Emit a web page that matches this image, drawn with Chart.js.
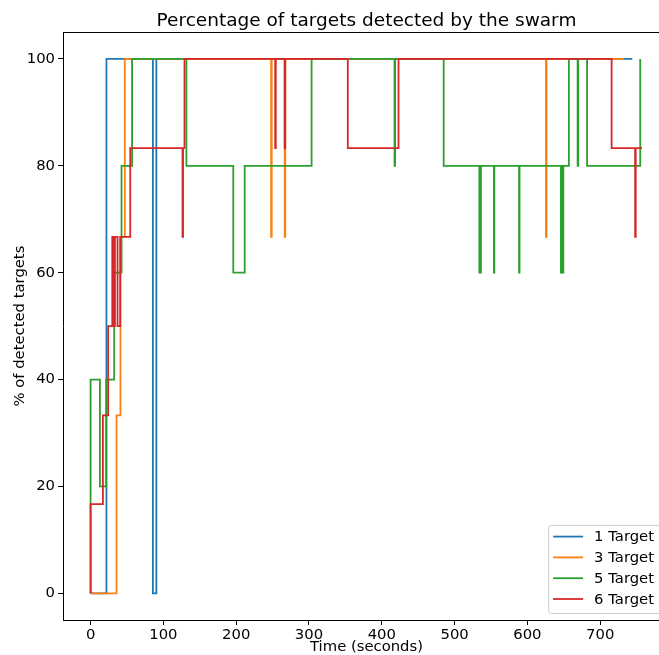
<!DOCTYPE html>
<html>
<head>
<meta charset="utf-8">
<script src="https://cdn.jsdelivr.net/npm/chart.js@4/dist/chart.umd.min.js"></script>
<style>
  html, body { margin: 0; padding: 0; background: #fff; overflow: hidden; }
  #wrap { width: 680px; height: 655px; }
</style>
</head>
<body>
<div id="wrap"><canvas id="myChart" width="680" height="655"></canvas></div>
<script>
// series names / colours (matplotlib tab10)
const seriesNames = ["1 Target", "3 Target", "5 Target", "6 Target"];
const seriesColors = ["#1f77b4", "#ff7f0e", "#2ca02c", "#d62728"];

// time (s) where the value changes, and the new value (% detected)
const time1 = [0, 21.8, 85.6, 90.3, 744];
const pct1  = [0, 100, 0, 100, 100];

const time3 = [0, 35.6, 41, 47, 248, 248.8, 266.6, 267.4, 625.5, 626.3, 732.7];
const pct3  = [0, 33.3, 66.7, 100, 66.7, 100, 66.7, 100, 66.7, 100, 100];

const time5 = [0, 0, 12.8, 21.4, 32.4, 42.5, 57, 131.6, 196, 211.7, 303.6, 417.5, 418.3, 485,
               534, 534.6, 535.6, 536.2, 554, 554.6, 588.6, 589.2, 646, 646.6, 648.8, 649.4,
               657, 669, 669.8, 682, 755];
const pct5  = [0, 40, 20, 40, 60, 80, 100, 80, 60, 80, 100, 80, 100, 80,
               60, 80, 60, 80, 60, 80, 60, 80, 60, 80, 60, 80,
               100, 80, 100, 80, 100];

const time6 = [0, 0, 16.9, 24.2, 29.8, 32.2, 33.4, 37, 40.7, 54.5, 126.3, 127, 129,
               253.6, 254.4, 266.6, 267.4, 353.3, 423, 715.7, 748, 748.8, 757.5];
const pct6  = [0, 16.7, 33.3, 50, 66.7, 50, 66.7, 50, 66.7, 83.3, 66.7, 83.3, 100,
               83.3, 100, 83.3, 100, 83.3, 100, 83.3, 66.7, 83.3, 83.3];

const xTicks = [0, 100, 200, 300, 400, 500, 600, 700];
const yTicks = [0, 20, 40, 60, 80, 100];

const allTimes = [time1, time3, time5, time6];
const allPcts = [pct1, pct3, pct5, pct6];

const FONT = "'DejaVu Sans', sans-serif";
const FS = 14.8;

const datasets = seriesNames.map((name, i) => ({
  label: name,
  data: allTimes[i].map((t, k) => ({ x: t, y: allPcts[i][k] })),
  borderColor: seriesColors[i],
  backgroundColor: seriesColors[i],
  borderWidth: 1.8,
  stepped: true,
  fill: false,
  pointRadius: 0,
  order: seriesNames.length - i
}));

// top/right spines + matplotlib style legend inside the axes
const frameLegend = {
  id: "frameLegend",
  afterDraw(chart) {
    const ctx = chart.ctx;
    const ca = chart.chartArea;
    ctx.save();
    ctx.strokeStyle = "#000";
    ctx.lineWidth = 1;
    ctx.beginPath();
    ctx.moveTo(Math.round(ca.left) + 0.5, Math.round(ca.top) + 0.5);
    ctx.lineTo(Math.round(ca.right) + 0.5, Math.round(ca.top) + 0.5);
    ctx.lineTo(Math.round(ca.right) + 0.5, Math.round(ca.bottom) + 0.5);
    ctx.stroke();

    ctx.font = FS + "px " + FONT;
    const maxW = Math.max(...seriesNames.map(n => ctx.measureText(n).width));
    const R = ca.right - 7;
    const B = ca.bottom - 7;
    const textX = R - 9 - maxW;
    const h1 = textX - 11;
    const h0 = h1 - 30;
    const L = h0 - 5;
    const rowH = 20.8;
    const firstY = B - 14 - (seriesNames.length - 1) * rowH;
    const T = firstY - 11.7;

    ctx.beginPath();
    ctx.roundRect(L + 0.5, T + 0.5, R - L, B - T, 3);
    ctx.fillStyle = "rgba(255,255,255,0.8)";
    ctx.fill();
    ctx.strokeStyle = "#cccccc";
    ctx.stroke();

    ctx.textBaseline = "middle";
    ctx.textAlign = "left";
    seriesNames.forEach((name, i) => {
      const y = firstY + i * rowH;
      ctx.strokeStyle = seriesColors[i];
      ctx.lineWidth = 1.8;
      ctx.beginPath();
      ctx.moveTo(h0, y);
      ctx.lineTo(h1, y);
      ctx.stroke();
      ctx.fillStyle = "#000";
      ctx.fillText(name, textX, y + 1);
    });
    ctx.restore();
  }
};

const ctx = document.getElementById("myChart");

new Chart(ctx, {
  type: "line",
  data: { datasets: datasets },
  plugins: [frameLegend],
  options: {
    responsive: false,
    animation: false,
    devicePixelRatio: 1,
    layout: { padding: { left: 0, right: 10, top: 0, bottom: 0 } },
    plugins: {
      legend: { display: false },
      tooltip: { enabled: false },
      title: {
        display: true,
        text: "Percentage of targets detected by the swarm",
        fullSize: false,
        color: "#000",
        font: { family: FONT, size: 18.5, weight: "normal" },
        padding: { top: 10, bottom: 0 }
      }
    },
    scales: {
      x: {
        type: "linear",
        min: -37.9,
        max: 795.9,
        afterBuildTicks: (s) => { s.ticks = xTicks.map(v => ({ value: v })); },
        afterFit: (s) => { s.height = 35; },
        ticks: { color: "#000", font: { family: FONT, size: FS, lineHeight: 1 }, padding: 3, maxRotation: 0, autoSkip: false },
        grid: { display: true, drawOnChartArea: false, drawTicks: true, tickLength: 5, color: "#000" },
        border: { display: true, color: "#000", width: 1 },
        title: { display: true, text: "Time (seconds)", color: "#000", font: { family: FONT, size: FS, lineHeight: 1 }, padding: { top: 0, bottom: 0 } }
      },
      y: {
        type: "linear",
        min: -5,
        max: 105,
        afterBuildTicks: (s) => { s.ticks = yTicks.map(v => ({ value: v })); },
        afterFit: (s) => { s.width = 63; },
        ticks: { color: "#000", font: { family: FONT, size: FS }, padding: 3 },
        grid: { display: true, drawOnChartArea: false, drawTicks: true, tickLength: 5, color: "#000" },
        border: { display: true, color: "#000", width: 1 },
        title: { display: true, text: "% of detected targets", color: "#000", font: { family: FONT, size: FS, lineHeight: 1 }, padding: { top: 13, bottom: 0 } }
      }
    }
  }
});
</script>
</body>
</html>
